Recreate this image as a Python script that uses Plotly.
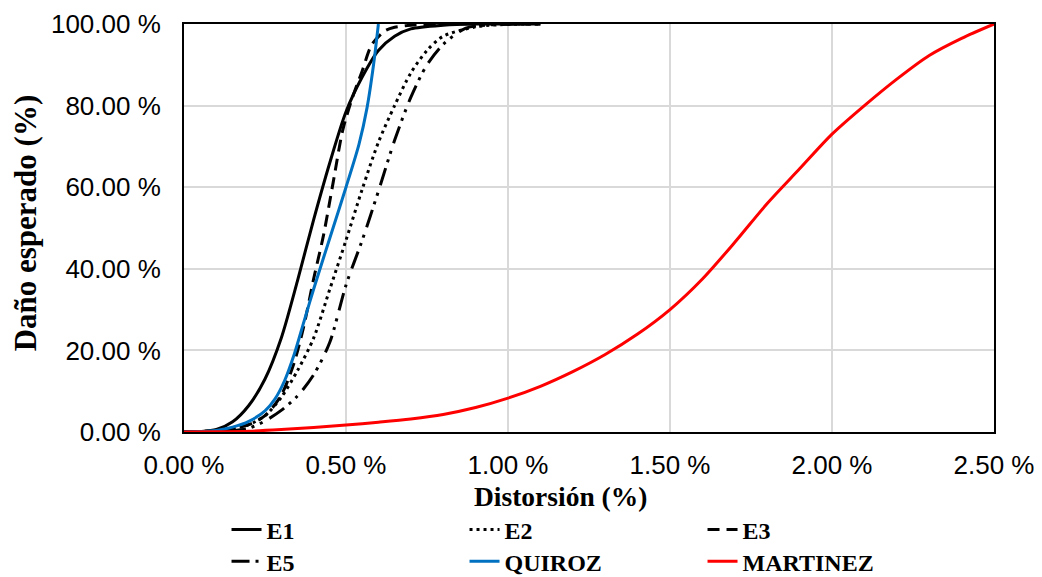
import plotly.graph_objects as go

# Distortion (%) and expected damage (%) per series
e1_x = [0, 0.05, 0.1, 0.15, 0.2, 0.25, 0.3, 0.35, 0.4, 0.45, 0.5, 0.55, 0.6, 0.65, 0.7, 0.8, 0.9, 1.0, 1.1]
e1_y = [0, 0.1, 0.6, 2.5, 6.5, 13, 23, 37, 52, 66, 78.5, 87, 93.5, 97, 98.8, 99.7, 100, 100, 100]

e2_x = [0, 0.1, 0.15, 0.2, 0.25, 0.3, 0.35, 0.4, 0.45, 0.5, 0.55, 0.6, 0.65, 0.7, 0.75, 0.8, 0.9, 1.0, 1.1]
e2_y = [0, 0.3, 0.8, 1.8, 4, 8.5, 15, 23, 35, 47, 59.5, 71, 80, 88, 93.5, 97, 99.3, 99.9, 100]

e3_x = [0, 0.1, 0.15, 0.2, 0.25, 0.3, 0.34, 0.37, 0.4, 0.43, 0.46, 0.49, 0.52, 0.55, 0.58, 0.62, 0.65, 0.7, 0.8, 1.1]
e3_y = [0, 0.3, 0.8, 1.8, 4, 9, 17, 26, 37.5, 48, 61, 74, 82, 88.5, 95, 98.3, 99.2, 99.7, 100, 100]

e5_x = [0, 0.1, 0.15, 0.2, 0.25, 0.3, 0.35, 0.4, 0.45, 0.5, 0.55, 0.6, 0.65, 0.7, 0.75, 0.8, 0.87, 0.95, 1.1]
e5_y = [0, 0.1, 0.3, 0.9, 2.7, 5.3, 8.8, 14, 22, 36, 47, 59, 71.5, 82, 90, 95, 99, 99.8, 100]

quiroz_x = [0, 0.05, 0.1, 0.15, 0.2, 0.25, 0.28, 0.31, 0.34, 0.37, 0.4, 0.46, 0.5, 0.54, 0.565, 0.585, 0.6]
quiroz_y = [0, 0.1, 0.4, 1.2, 2.6, 5.2, 8, 12.5, 19, 27, 35, 50, 60, 70.5, 79.5, 90, 100]

martinez_x = [0, 0.1, 0.2, 0.3, 0.4, 0.5, 0.6, 0.7, 0.8, 0.9, 1.0, 1.1, 1.2, 1.3, 1.4, 1.5,
              1.6, 1.7, 1.8, 1.9, 2.0, 2.1, 2.2, 2.3, 2.4, 2.5]
martinez_y = [0, 0.05, 0.2, 0.6, 1.1, 1.7, 2.4, 3.2, 4.3, 6.0, 8.3, 11.2, 14.8, 19, 24, 30,
              37.5, 46.5, 56, 64.5, 73, 80, 86.5, 92.3, 96.5, 100]

x_ticks = [0, 0.5, 1.0, 1.5, 2.0, 2.5]
y_ticks = [0, 20, 40, 60, 80, 100]

x_title = "Distorsión (%)"
y_title = "Daño esperado (%)"

series = [
    ("E1", e1_x, e1_y, "black", "solid", "legend"),
    ("E2", e2_x, e2_y, "black", "3px,4px", "legend"),
    ("E3", e3_x, e3_y, "black", "12px,7px", "legend"),
    ("E5", e5_x, e5_y, "black", "18px,6px,3px,6px,3px,8px", "legend2"),
    ("QUIROZ", quiroz_x, quiroz_y, "#0070C0", "solid", "legend2"),
    ("MARTINEZ", martinez_x, martinez_y, "#FF0000", "solid", "legend2"),
]

fig = go.Figure()
for name, xs, ys, color, dash, leg in series:
    fig.add_trace(go.Scatter(
        x=xs, y=ys, name=name, mode="lines",
        line=dict(color=color, width=3, dash=dash, shape="spline", smoothing=0.8),
        legend=leg,
    ))

serif = "Liberation Serif, Times New Roman"
tick_font = dict(family="Liberation Sans, Arial", size=26, color="black")
leg_font = dict(family=serif, size=24, color="black", weight="bold")

# page body adds an 8px offset; figure fills the rest of the 1042x577 window
fig.update_layout(
    width=1034, height=569,
    margin=dict(l=176, r=48, t=16, b=145, autoexpand=False),
    paper_bgcolor="white", plot_bgcolor="white",
    showlegend=True,
    legend=dict(orientation="h", x=0.0525, xanchor="left", y=-0.240, yanchor="middle",
                font=leg_font, entrywidth=193, entrywidthmode="pixels",
                bgcolor="rgba(0,0,0,0)"),
    legend2=dict(orientation="h", x=0.0525, xanchor="left", y=-0.318, yanchor="middle",
                 font=leg_font, entrywidth=193, entrywidthmode="pixels",
                 bgcolor="rgba(0,0,0,0)"),
    xaxis=dict(range=[0, 2.5], tickmode="array", tickvals=x_ticks,
               ticktext=[f"{v:.2f} %" for v in x_ticks],
               tickfont=tick_font, showgrid=True, gridcolor="#D9D9D9", gridwidth=1.5,
               showline=True, linecolor="black", linewidth=2, mirror=True,
               zeroline=False, ticks="", ticklabelstandoff=9, ticklabeloverflow="allow"),
    yaxis=dict(range=[0, 100], tickmode="array", tickvals=y_ticks,
               ticktext=[f"{v:.2f} %" for v in y_ticks],
               tickfont=tick_font, showgrid=True, gridcolor="#D9D9D9", gridwidth=1.5,
               showline=True, linecolor="black", linewidth=2, mirror=True,
               zeroline=False, ticks="", ticklabelstandoff=16, ticklabeloverflow="allow"),
    annotations=[
        dict(text=f"<b>{x_title}</b>", xref="paper", yref="paper", x=0.4654, y=-0.159,
             xanchor="center", yanchor="middle", showarrow=False,
             font=dict(family=serif, size=27.5, color="black")),
        dict(text=f"<b>{y_title}</b>", xref="paper", yref="paper", x=-0.196, y=0.512,
             xanchor="center", yanchor="middle", showarrow=False, textangle=-90,
             font=dict(family=serif, size=31, color="black")),
    ],
)

fig.write_html("out.html")
